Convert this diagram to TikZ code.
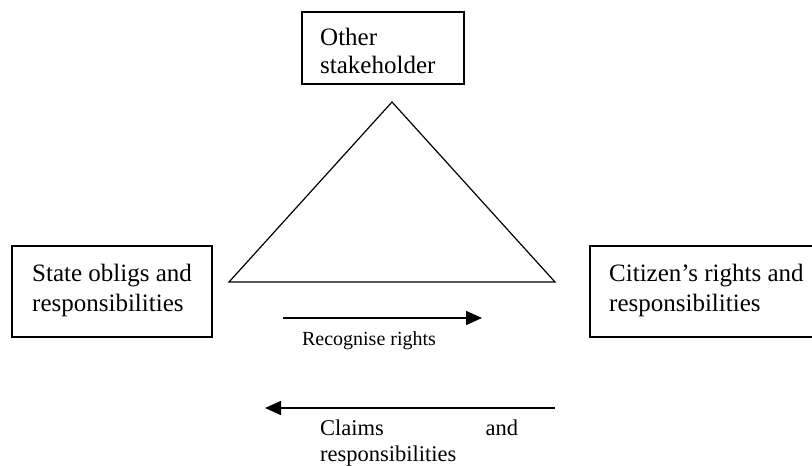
\documentclass[tikz,border=0pt]{standalone}
\usepackage{fontspec}
\setmainfont{Liberation Serif}
\usetikzlibrary{arrows.meta}
\begin{document}
\begin{tikzpicture}[x=1pt,y=-1pt,
  boxline/.style={draw,line width=1.4pt},
  arr/.style={line width=1.6pt,-{Triangle[length=16pt,width=14pt]}},
  lbl/.style={inner sep=0pt,align=left}]
\useasboundingbox (0,0) rectangle (812,466);
\clip (0,0) rectangle (812,466);
% boxes
\node[lbl,anchor=west,font=\fontsize{25}{28}\selectfont] (top) at (320,51) {Other\\stakeholder};
\draw[boxline] (302,12) rectangle (464,84);
\node[lbl,anchor=west,font=\fontsize{25}{30}\selectfont] (state) at (32,290) {State obligs and\\responsibilities};
\draw[boxline] (12,246) rectangle (212,337);
\node[lbl,anchor=west,font=\fontsize{25}{30}\selectfont] (citizen) at (609,290) {Citizen’s rights and\\responsibilities};
\draw[boxline] (590,246) rectangle (830,337);
% triangle
\draw[line width=1.2pt,line join=miter] (229,282) -- (392,102) -- (555,282) -- cycle;
% arrows
\coordinate (r1) at (283,318);
\coordinate (r2) at (482,318);
\draw[arr] (r1) -- (r2);
\node[lbl,font=\fontsize{20}{24}\selectfont] (rec) at (369,341) {Recognise rights};
\coordinate (c1) at (555,408);
\coordinate (c2) at (265,408);
\draw[arr] (c1) -- (c2);
\node[lbl,anchor=north west,font=\fontsize{22.5}{26}\selectfont] (claims) at (320,420) {\hbox to 198pt{Claims\hfill and}\\responsibilities};
\end{tikzpicture}
\end{document}
